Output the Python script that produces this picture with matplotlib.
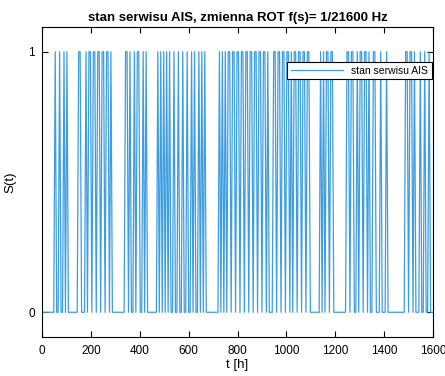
import numpy as np
import matplotlib
matplotlib.use('Agg')
import matplotlib.pyplot as plt

plt.rcParams['font.family'] = ['Liberation Sans', 'DejaVu Sans']

# sampling step of the ROT variable: f(s) = 1/21600 Hz -> one sample every 6 h
step_h = 6
t_end = 1600

# moments (in hours) where the AIS service state toggles 0 <-> 1
edges = [
    54, 60, 72, 78, 90, 96, 102, 108,
    150, 162, 180, 186, 192, 204, 210, 222, 228, 240, 246, 258, 264, 276, 282, 288,
    342, 354, 360, 366, 378, 384, 390, 402, 414, 420, 426, 432,
    474, 480, 486, 492, 498, 504, 510, 516, 522, 528, 540, 546, 558, 564, 576, 582,
    594, 600, 612, 618, 624, 630, 642, 648, 654, 660, 666, 672,
    726, 732, 738, 744, 750, 756, 762, 774, 780, 792, 798, 810, 816, 828, 834, 846,
    852, 864, 870, 882, 888, 900, 906, 918, 924, 930, 948, 960, 966, 978, 984, 996,
    1002, 1014, 1020, 1026, 1032, 1044, 1050, 1062, 1068, 1080, 1086, 1098,
    1140, 1146, 1152, 1158, 1164, 1176, 1182, 1194,
    1248, 1260, 1266, 1278, 1290, 1296, 1302, 1314, 1320, 1332, 1338, 1344,
    1356, 1368, 1386, 1392, 1410, 1416,
    1488, 1500, 1506, 1518, 1524, 1530, 1548, 1554, 1566, 1572, 1584, 1590,
]

x_ticks = [0, 200, 400, 600, 800, 1000, 1200, 1400, 1600]
y_ticks = [0, 1]

t = np.arange(0, t_end + step_h, step_h)
state = np.searchsorted(np.array(edges), t, side='right') % 2

fig = plt.figure(figsize=(4.45, 3.76), dpi=100)
ax = fig.add_axes([0.0944, 0.1037, 0.8787, 0.8245])

ax.plot(t, state, color='#3d9de0', linewidth=0.9, label='stan serwisu AIS')

ax.set_xlim(0, 1600)
ax.set_ylim(-0.095, 1.095)
ax.set_xticks(x_ticks)
ax.set_yticks(y_ticks)
ax.tick_params(direction='in', top=True, right=True, labelsize=8.5, length=4, width=0.8)
ax.tick_params(axis='x', pad=6)
ax.tick_params(axis='y', pad=5)
for sp in ax.spines.values():
    sp.set_linewidth(0.8)

ax.set_title('stan serwisu AIS, zmienna ROT f(s)= 1/21600 Hz',
             fontsize=9.5, fontweight='bold', pad=4)
ax.set_xlabel('t [h]', fontsize=9.5, labelpad=1)
ax.set_ylabel('S(t)', fontsize=9.5, labelpad=9)

leg = ax.legend(loc='upper right', bbox_to_anchor=(0.997, 0.887), borderaxespad=0,
                fancybox=False, framealpha=1, edgecolor='black', fontsize=7.5,
                handlelength=5, borderpad=0.35)
leg.get_frame().set_linewidth(0.8)

fig.savefig('out.png', dpi=100)
